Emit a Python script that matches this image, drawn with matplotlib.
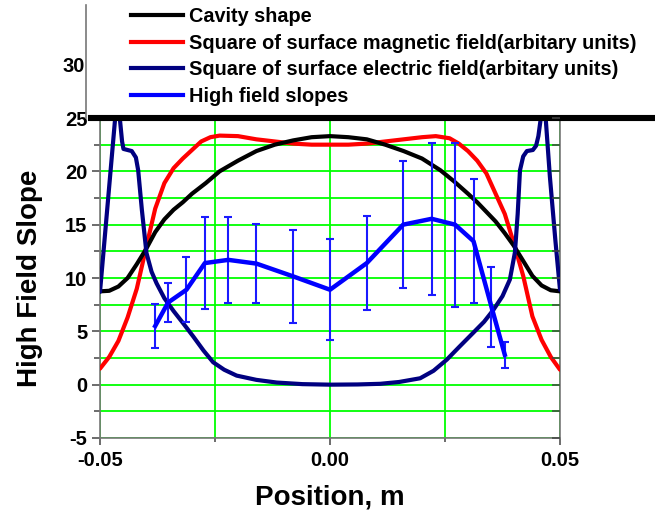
import matplotlib
matplotlib.use("Agg")
import matplotlib.pyplot as plt
from matplotlib.lines import Line2D
from matplotlib.ticker import MultipleLocator, FixedLocator

plt.rcParams['font.family'] = ['Liberation Sans', 'DejaVu Sans']
plt.rcParams['font.weight'] = 'bold'
plt.rcParams['axes.unicode_minus'] = False

# ---------------- data ----------------
x_cav = [-0.050, -0.048, -0.046, -0.044, -0.042, -0.040, -0.038, -0.036, -0.034, -0.032,
         -0.030, -0.027, -0.024, -0.020, -0.016, -0.012, -0.008, -0.004, 0.000, 0.004,
         0.008, 0.012, 0.016, 0.020, 0.024, 0.027, 0.030, 0.032, 0.034, 0.036,
         0.038, 0.040, 0.042, 0.044, 0.046, 0.048, 0.050]
y_cav = [8.75, 8.8, 9.2, 10.0, 11.3, 12.7, 14.3, 15.5, 16.4, 17.1,
         17.9, 18.9, 20.0, 21.0, 21.9, 22.5, 22.9, 23.2, 23.3, 23.2,
         23.0, 22.5, 21.9, 21.2, 20.1, 19.05, 17.9, 17.1, 16.2, 15.3,
         14.2, 13.0, 11.6, 10.2, 9.3, 8.85, 8.75]

x_mag = [-0.050, -0.048, -0.046, -0.044, -0.042, -0.040, -0.038, -0.036, -0.034, -0.032,
         -0.030, -0.028, -0.026, -0.024, -0.020, -0.016, -0.012, -0.008, -0.004, 0.000,
         0.004, 0.008, 0.012, 0.016, 0.020, 0.023, 0.026, 0.028, 0.030, 0.032,
         0.034, 0.036, 0.038, 0.040, 0.042, 0.044, 0.046, 0.048, 0.050]
y_mag = [1.5, 2.6, 4.1, 6.3, 9.0, 12.8, 16.5, 18.9, 20.3, 21.2,
         22.0, 22.8, 23.2, 23.35, 23.3, 23.0, 22.8, 22.6, 22.5, 22.5,
         22.5, 22.6, 22.8, 23.0, 23.2, 23.3, 23.1, 22.6, 21.9, 21.0,
         19.8, 17.9, 16.0, 13.2, 10.2, 6.4, 4.2, 2.6, 1.4]

x_ele = [-0.0500, -0.0467, -0.0462, -0.0457, -0.0452, -0.0449, -0.0440, -0.0431, -0.0422, -0.0417,
         -0.0409, -0.0399, -0.0388, -0.0377, -0.0360, -0.0340, -0.0320, -0.0297, -0.0275, -0.0254,
         -0.0230, -0.0203, -0.0160, -0.0116, -0.0060, 0.0000, 0.0060, 0.0109, 0.0150, 0.0196,
         0.0225, 0.0254, 0.0280, 0.0311, 0.0335, 0.0355, 0.0375, 0.0391, 0.0402, 0.0408,
         0.0413, 0.0420, 0.0428, 0.0441, 0.0448, 0.0453, 0.0463, 0.0468, 0.0478, 0.0490, 0.0500]
y_ele = [8.7, 25.0, 26.5, 25.0, 22.8, 22.1, 22.0, 21.9, 21.3, 20.1,
         16.4, 12.35, 10.6, 9.5, 8.1, 6.9, 5.8, 4.5, 3.2, 2.1,
         1.4, 0.85, 0.45, 0.2, 0.05, 0.0, 0.02, 0.08, 0.25, 0.6,
         1.3, 2.35, 3.5, 4.85, 5.9, 7.0, 8.3, 9.85, 12.4, 16.0,
         20.1, 21.4, 21.9, 22.0, 22.4, 23.3, 26.5, 25.5, 19.5, 13.5, 8.9]

x_hf = [-0.0380, -0.0352, -0.0312, -0.0272, -0.0221, -0.0160, -0.0080, 0.0000, 0.0080, 0.0159,
        0.0221, 0.0272, 0.0312, 0.0351, 0.0380]
y_hf = [5.5, 7.7, 8.9, 11.4, 11.7, 11.35, 10.15, 8.9, 11.4, 15.0,
        15.55, 15.0, 13.45, 7.3, 2.8]
e_hf = [2.1, 1.8, 3.05, 4.35, 4.0, 3.7, 4.35, 4.75, 4.4, 5.95,
        7.1, 7.7, 5.8, 3.75, 1.2]

labels = ["Cavity shape",
          "Square of surface magnetic field(arbitary units)",
          "Square of surface electric field(arbitary units)",
          "High field slopes"]
x_ticks = [-0.05, 0.00, 0.05]
x_ticklabels = ["-0.05", "0.00", "0.05"]
y_ticks = [-5, 0, 5, 10, 15, 20, 25]

# ---------------- figure ----------------
W, H = 655, 516
fig = plt.figure(figsize=(W / 100, H / 100), dpi=100)

def box(l, t, r, b):
    return [l / W, 1 - b / H, (r - l) / W, (b - t) / H]

ax = fig.add_axes(box(100, 118, 560, 438))
ax.set_xlim(-0.05, 0.05)
ax.set_ylim(-5, 25)

green = '#00ff00'
ax.set_axisbelow(True)
ax.xaxis.set_major_locator(FixedLocator(x_ticks))
ax.set_xticklabels(x_ticklabels)
ax.xaxis.set_minor_locator(FixedLocator([-0.025, 0.025]))
ax.yaxis.set_major_locator(FixedLocator(y_ticks))
ax.yaxis.set_minor_locator(MultipleLocator(2.5))
ax.grid(True, which='both', color=green, lw=1.3)

spc = '#777777'
for s in ['left', 'bottom', 'right']:
    ax.spines[s].set_color(spc)
    ax.spines[s].set_linewidth(1.2)
    ax.spines[s].set_zorder(3)
ax.spines['top'].set_visible(False)

ax.tick_params(axis='y', which='major', direction='out', length=6, width=1.1,
               color='#444444', labelsize=14.5, pad=3)
ax.tick_params(axis='y', which='minor', direction='out', length=4, width=1.1, color='#444444')
ax.tick_params(axis='x', which='major', direction='out', length=5, width=1.1,
               color='#444444', labelsize=14.5, pad=4)
ax.tick_params(axis='x', which='minor', direction='out', length=3, width=1.1, color='#444444')
for lab in ax.get_xticklabels() + ax.get_yticklabels():
    lab.set_fontweight('bold')

# right-side inward ticks
ax2 = ax.twinx()
ax2.set_ylim(-5, 25)
ax2.yaxis.set_major_locator(MultipleLocator(2.5))
ax2.tick_params(axis='y', direction='in', length=6, width=1.1, color='#444444', labelright=False)
for s in ax2.spines.values():
    s.set_visible(False)

# curves
lw = 3.0
ax.plot(x_mag, y_mag, color='#ff0000', lw=lw, zorder=4, solid_capstyle='round')
ax.plot(x_cav, y_cav, color='#000000', lw=lw, zorder=5, solid_capstyle='round')
ax.plot(x_ele, y_ele, color='#000080', lw=lw, zorder=6, solid_capstyle='round')
ax.errorbar(x_hf, y_hf, yerr=e_hf, fmt='none', ecolor='#1a1aff', elinewidth=1.5,
            capsize=3, capthick=1.5, zorder=6.5)
ax.plot(x_hf, y_hf, color='#0000ff', lw=3.2, zorder=7, solid_joinstyle='round')

# thick black line at 25 extending beyond plot
ax.axhline(25, xmin=(91 - 100) / 460, xmax=(653 - 100) / 460, color='black',
           lw=4.4, clip_on=False, zorder=10)

ax.set_xlabel("Position, m", fontsize=20, fontweight='bold', labelpad=11)
ax.set_ylabel("High Field Slope", fontsize=20, fontweight='bold', labelpad=16)

# upper box (legend area)
axu = fig.add_axes(box(86, 5, 655, 118))
axu.set_ylim(25, 25 + 113 / (320 / 30))
axu.set_xlim(0, 1)
axu.patch.set_visible(False)
for s in ['top', 'right', 'bottom']:
    axu.spines[s].set_visible(False)
axu.spines['left'].set_color(spc)
axu.spines['left'].set_linewidth(1.2)
axu.set_xticks([])
axu.set_yticks([30])
axu.tick_params(axis='y', length=0, labelsize=14.5, pad=1)
for lab in axu.get_yticklabels():
    lab.set_fontweight('bold')

handles = [Line2D([], [], color='#000000', lw=3.0),
           Line2D([], [], color='#ff0000', lw=3.0),
           Line2D([], [], color='#000080', lw=3.0),
           Line2D([], [], color='#0000ff', lw=3.0)]
fig.legend(handles, labels, loc='upper left', bbox_to_anchor=(131 / W, 1 - 7 / H),
           frameon=False, borderpad=0, borderaxespad=0, handlelength=2.6,
           handletextpad=0.3, labelspacing=0.38,
           prop={'family': ['Liberation Sans', 'DejaVu Sans'], 'weight': 'bold', 'size': 14.3})

fig.savefig("out.png", dpi=100)
